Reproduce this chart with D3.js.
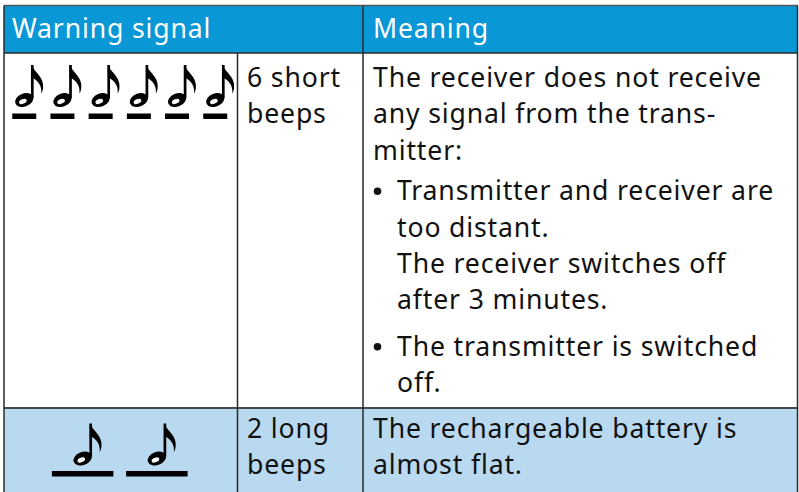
<!DOCTYPE html>
<html>
<head>
<meta charset="utf-8">
<script src="https://cdn.jsdelivr.net/npm/d3@7"></script>
<style>
  html, body { margin: 0; padding: 0; background: #ffffff; }
  svg { display: block; }
</style>
</head>
<body>
<svg id="chart" width="799" height="492"></svg>
<script>
// ---------- data ----------
const headers = ["Warning signal", "Meaning"];
const beepCounts = [6, 2];
const beepKinds = ["short", "long"];
const beepLabels = [["6 short", "beeps"], ["2 long", "beeps"]];
const meaningRow1 = [
  { bullet: false, gapBefore: 0, lines: ["The receiver does not receive", "any signal from the trans-", "mitter:"] },
  { bullet: true, gapBefore: 4, lines: ["Transmitter and receiver are", "too distant."] },
  { bullet: false, indent: true, gapBefore: 0, lines: ["The receiver switches off", "after 3 minutes."] },
  { bullet: true, gapBefore: 10, lines: ["The transmitter is switched", "off."] }
];
const meaningRow2 = [
  { bullet: false, gapBefore: 0, lines: ["The rechargeable battery is", "almost flat."] }
];
const meanings = [meaningRow1, meaningRow2];

// ---------- layout ----------
const W = 799, H = 492;
const svg = d3.select("#chart");
const FONT = "'Noto Sans', 'Open Sans', sans-serif";
const colX = d3.scaleOrdinal().domain(["left", "c1", "c2", "right"]).range([4, 237.5, 363, 797.5]);
const rowY = d3.scaleOrdinal().domain(["top", "h", "r1", "r2"]).range([5.5, 53, 408, 520]);
const rowKeys = ["h", "r1"];
const rowBg = ["#ffffff", "#b9d9f0"];
const headerBlue = "#0a97d5";

// font size fitted to the measured width of a reference line (capped so lines do not collide)
const refLine = meaningRow1[0].lines[0];
const probe = svg.append("text").attr("font-family", FONT).attr("font-size", 100).text(refLine);
const probeW100 = probe.node().getComputedTextLength();
probe.remove();
const FS = Math.min(100 * 389 / probeW100, 26.6);
const LS = (389 - probeW100 * FS / 100) / refLine.length;
const LH = 36.4;

function txt(sel) {
  return sel.attr("font-family", FONT).attr("font-size", FS).attr("letter-spacing", LS);
}

// backgrounds
svg.append("rect").attr("x", colX("left")).attr("y", rowY("top"))
  .attr("width", colX("right") - colX("left")).attr("height", rowY("h") - rowY("top"))
  .attr("fill", headerBlue);
rowKeys.forEach((k, i) => {
  const y0 = rowY(k === "h" ? "h" : "r1");
  const y1 = rowY(k === "h" ? "r1" : "r2");
  svg.append("rect").attr("x", colX("left")).attr("y", y0)
    .attr("width", colX("right") - colX("left")).attr("height", y1 - y0)
    .attr("fill", rowBg[i]);
});

// header text
const headerX = [12, 373];
txt(svg.selectAll("text.hdr").data(headers).join("text").attr("class", "hdr")
  .attr("x", (d, i) => headerX[i]).attr("y", 37.5))
  .attr("fill", "#ffffff")
  .text(d => d);

// grid lines
const lineCol = "#2a2a2a";
svg.append("line").attr("x1", colX("left")).attr("x2", colX("right")).attr("y1", rowY("top")).attr("y2", rowY("top"))
  .attr("stroke", "#555").attr("stroke-width", 1.5);
svg.append("line").attr("x1", colX("left")).attr("x2", colX("right")).attr("y1", rowY("h")).attr("y2", rowY("h"))
  .attr("stroke", lineCol).attr("stroke-width", 1.6);
svg.append("line").attr("x1", colX("left")).attr("x2", colX("right")).attr("y1", rowY("r1")).attr("y2", rowY("r1"))
  .attr("stroke", "#444a50").attr("stroke-width", 2);
[["left", "top"], ["c2", "top"], ["right", "top"], ["c1", "h"]].forEach(([c, r]) => {
  svg.append("line").attr("x1", colX(c)).attr("x2", colX(c)).attr("y1", rowY(r)).attr("y2", H + 5)
    .attr("stroke", lineCol).attr("stroke-width", 1.5);
});

// ---------- note glyphs ----------
function drawNote(g, cx, cy) {
  const n = g.append("g").attr("transform", `translate(${cx},${cy})`);
  n.append("ellipse").attr("rx", 9.5).attr("ry", 6.6).attr("transform", "rotate(-22)").attr("fill", "#000");
  n.append("ellipse").attr("cx", -1.8).attr("cy", 0.8).attr("rx", 4).attr("ry", 2.3)
    .attr("transform", "rotate(-22)").attr("fill", "#fff");
  const sx = 6.7, top = -35;
  n.append("rect").attr("x", sx).attr("y", top).attr("width", 2.7).attr("height", 33).attr("fill", "#000");
  n.append("path").attr("fill", "#000").attr("d",
    `M${sx + 0.5},${top} C${sx + 3},${top + 7} ${sx + 14},${top + 12} ${sx + 12},${top + 24}
     C${sx + 11.5},${top + 26} ${sx + 11},${top + 27.5} ${sx + 10.3},${top + 28.5}
     C${sx + 11.3},${top + 21} ${sx + 7},${top + 15} ${sx + 0.5},${top + 12.5} Z`);
}

const dashLen = { short: 24, long: 61.5 };
const dashGap = { short: 14.2, long: 12.7 };
const noteRowY = [100, 458.5];
const dashY = [113.5, 471];
const col1Center = (colX("left") + colX("c1")) / 2 - 1;

beepCounts.forEach((cnt, r) => {
  const kind = beepKinds[r];
  const span = cnt * dashLen[kind] + (cnt - 1) * dashGap[kind];
  const x = d3.scaleBand().domain(d3.range(cnt))
    .range([col1Center - span / 2, col1Center + span / 2])
    .paddingInner(dashGap[kind] / (dashLen[kind] + dashGap[kind])).paddingOuter(0);
  const g = svg.append("g");
  g.selectAll("rect.dash").data(d3.range(cnt)).join("rect").attr("class", "dash")
    .attr("x", d => x(d)).attr("y", dashY[r]).attr("width", x.bandwidth()).attr("height", 5.5)
    .attr("fill", "#000");
  d3.range(cnt).forEach(d => drawNote(g, x(d) + x.bandwidth() / 2, noteRowY[r]));
});

// ---------- column 2 labels ----------
const rowTextTop = [87, 438];
beepLabels.forEach((lines, r) => {
  txt(svg.selectAll(null).data(lines).join("text")
    .attr("x", 247).attr("y", (d, i) => rowTextTop[r] + i * LH))
    .attr("fill", "#111")
    .text(d => d);
});

// ---------- meanings ----------
meanings.forEach((paras, r) => {
  let y = rowTextTop[r];
  let first = true;
  paras.forEach(p => {
    if (!first) y += LH + p.gapBefore;
    first = false;
    const tx = (p.bullet || p.indent) ? 397 : 373;
    if (p.bullet) {
      svg.append("circle").attr("cx", 377.5).attr("cy", y - 9).attr("r", 3.8).attr("fill", "#111");
    }
    p.lines.forEach((ln, i) => {
      if (i > 0) y += LH;
      txt(svg.append("text").attr("x", tx).attr("y", y)).attr("fill", "#111").text(ln);
    });
  });
});
</script>
</body>
</html>
